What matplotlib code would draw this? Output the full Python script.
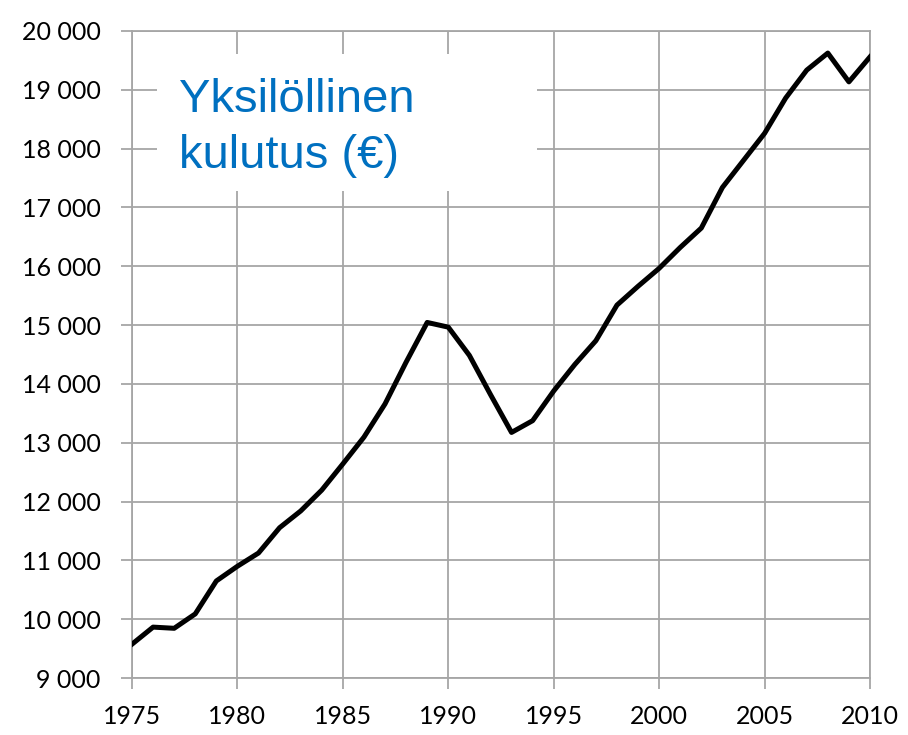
import matplotlib.pyplot as plt
from matplotlib.patches import Rectangle
from matplotlib.ticker import FuncFormatter, MultipleLocator

# yksityinen kulutus per henkilo, luettu kuvasta
years = list(range(1975, 2011))
kulutus = [9575, 9865, 9845, 10090, 10650, 10900, 11125, 11555, 11840, 12195,
           12640, 13095, 13660, 14370, 15045, 14965, 14485, 13820, 13175, 13375,
           13880, 14330, 14735, 15340, 15660, 15965, 16320, 16650, 17340, 17800,
           18260, 18860, 19335, 19625, 19135, 19560]
title_lines = ["Yksilöllinen", "kulutus (€)"]

grid_col = "#a6a6a6"

fig = plt.figure(figsize=(9.08, 7.35), dpi=100)
ax = fig.add_axes([132/908, 1-678/735, 738/908, 647/735])

ax.plot(years, kulutus, color="black", lw=3.6, solid_joinstyle="round", zorder=4)

ax.set_xlim(1975, 2010)
ax.set_ylim(9000, 20000)
ax.xaxis.set_major_locator(MultipleLocator(5))
ax.yaxis.set_major_locator(MultipleLocator(1000))
ax.yaxis.set_major_formatter(FuncFormatter(lambda v, p: f"{v:,.0f}".replace(",", " ")))

ax.grid(True, color=grid_col, lw=1.3, zorder=1)
ax.set_axisbelow(True)
for s in ax.spines.values():
    s.set_color(grid_col)
    s.set_linewidth(1.3)

ax.tick_params(axis="both", direction="out", length=7.6, width=1.3, color=grid_col,
               labelsize=18, labelcolor="black")
ax.tick_params(axis="y", pad=15)
ax.tick_params(axis="x", pad=12)
for lab in ax.get_xticklabels() + ax.get_yticklabels():
    lab.set_family("Lato")

# valkoinen laatikko otsikon alla
ax.add_patch(Rectangle((25/738, (678-191)/647), 380/738, 137/647, transform=ax.transAxes,
                       facecolor="white", edgecolor="none", zorder=2))
ax.text(47/738, (678-112)/647, title_lines[0], transform=ax.transAxes, va="baseline",
        ha="left", fontsize=34, color="#0070c0", family="Liberation Sans", zorder=3)
ax.text(47/738, (678-168)/647, title_lines[1], transform=ax.transAxes, va="baseline",
        ha="left", fontsize=34, color="#0070c0", family="Liberation Sans", zorder=3)

fig.savefig("out.png", dpi=100)
